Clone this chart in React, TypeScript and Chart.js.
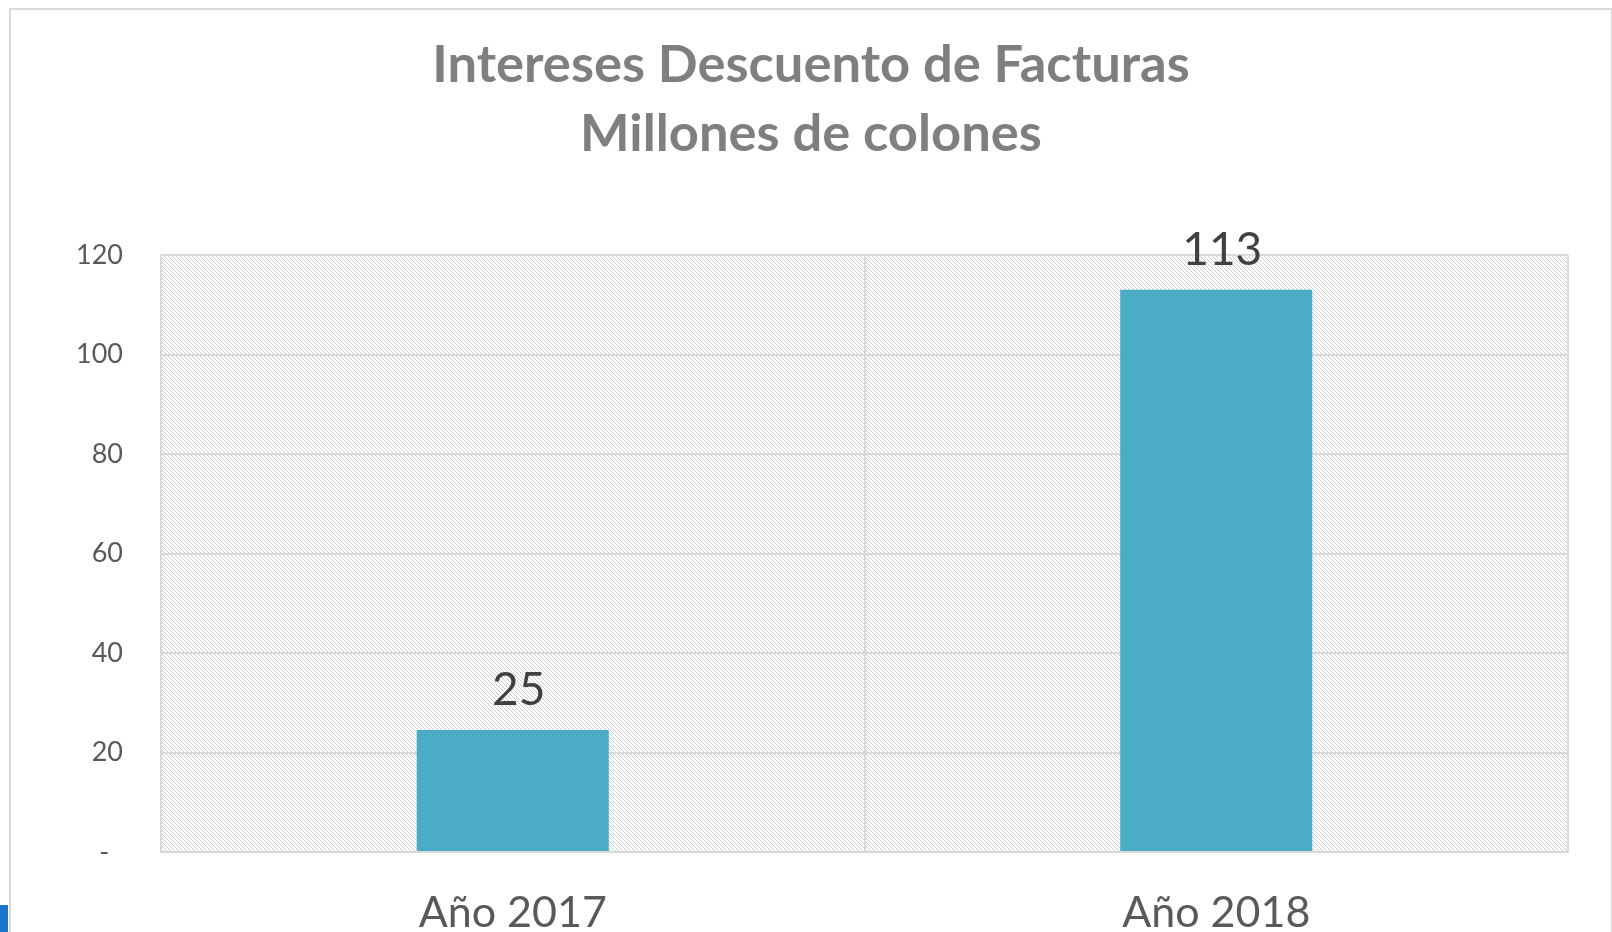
import { useEffect, useRef } from "react";
import { Chart, registerables } from "chart.js";

Chart.register(...registerables);

const categories = ["Año 2017", "Año 2018"];
const values = [24.5, 113];
const titleLines = ["Intereses Descuento de Facturas", "Millones de colones"];
const yMax = 120;
const yStep = 20;

const FONT = "Lato, 'Open Sans', sans-serif";

const hatchPlugin = {
  id: "hatchBg",
  beforeDraw(chart: any) {
    const { ctx, chartArea } = chart;
    const tile = document.createElement("canvas");
    tile.width = 8;
    tile.height = 8;
    const tctx = tile.getContext("2d")!;
    tctx.fillStyle = "#ffffff";
    tctx.fillRect(0, 0, 8, 8);
    tctx.fillStyle = "#cfcfcf";
    for (let y = 0; y < 8; y++) {
      for (let x = 0; x < 8; x++) {
        if ((((x - y) % 4) + 4) % 4 === 0) tctx.fillRect(x, y, 1, 1);
      }
    }
    const pattern = ctx.createPattern(tile, "repeat");
    ctx.save();
    ctx.fillStyle = pattern;
    ctx.fillRect(chartArea.left, chartArea.top, chartArea.right - chartArea.left, chartArea.bottom - chartArea.top);
    ctx.restore();
  },
};

const valueLabelPlugin = {
  id: "valueLabels",
  afterDatasetsDraw(chart: any) {
    const { ctx } = chart;
    const meta = chart.getDatasetMeta(0);
    ctx.save();
    ctx.font = `46px ${FONT}`;
    ctx.fillStyle = "#404040";
    ctx.textAlign = "center";
    ctx.textBaseline = "alphabetic";
    meta.data.forEach((el: any, i: number) => {
      ctx.fillText(String(Math.round(values[i])), el.x + 6, el.y - 25);
    });
    ctx.restore();
  },
};

export default function App() {
  const ref = useRef<HTMLCanvasElement>(null);

  useEffect(() => {
    if (!ref.current) return;
    const chart = new Chart(ref.current, {
      type: "bar",
      data: {
        labels: categories,
        datasets: [
          {
            data: values,
            backgroundColor: "#4bacc6",
            barPercentage: 0.273,
            categoryPercentage: 1,
          },
        ],
      },
      options: {
        animation: false,
        responsive: false,
        maintainAspectRatio: false,
        layout: { padding: { left: 54, right: 44, top: 0, bottom: 0 } },
        plugins: {
          legend: { display: false },
          tooltip: { enabled: false },
          title: {
            display: true,
            text: titleLines,
            color: "#7f7f7f",
            font: { family: FONT, size: 52.5, weight: "bold", lineHeight: 69 / 52.5 },
            padding: { top: 31, bottom: 86 },
          },
        },
        scales: {
          x: {
            grid: { color: "#d9d9d9", lineWidth: 2, drawTicks: false, offset: true },
            border: { color: "#d9d9d9", width: 2 },
            ticks: {
              color: "#595959",
              font: { family: FONT, size: 43 },
              padding: 35,
            },
            afterFit(scale: any) {
              scale.height = 80;
            },
          },
          y: {
            min: 0,
            max: yMax,
            grid: { color: "#d9d9d9", lineWidth: 2, drawTicks: false },
            border: { display: false },
            ticks: {
              stepSize: yStep,
              color: "#595959",
              font: { family: FONT, size: 27 },
              padding: 38,
              callback: (v: any) => (Number(v) === 0 ? "-  " : String(v)),
            },
            afterFit(scale: any) {
              scale.width = 107;
            },
          },
        },
      },
      plugins: [hatchPlugin, valueLabelPlugin],
    });
    return () => chart.destroy();
  }, []);

  return (
    <div
      style={{
        position: "fixed",
        left: 0,
        top: 0,
        width: 1612,
        height: 932,
        overflow: "hidden",
        background: "#ffffff",
      }}
    >
      <div
        style={{
          position: "absolute",
          left: 9,
          top: 8,
          width: 1600,
          height: 1000,
          border: "2px solid #d9d9d9",
        }}
      />
      <div
        style={{
          position: "absolute",
          left: 0,
          top: 905,
          width: 8,
          height: 27,
          background: "#1b74c9",
        }}
      />
      <canvas
        ref={ref}
        width={1612}
        height={932}
        style={{ position: "absolute", left: 0, top: 0, width: 1612, height: 932 }}
      />
    </div>
  );
}
